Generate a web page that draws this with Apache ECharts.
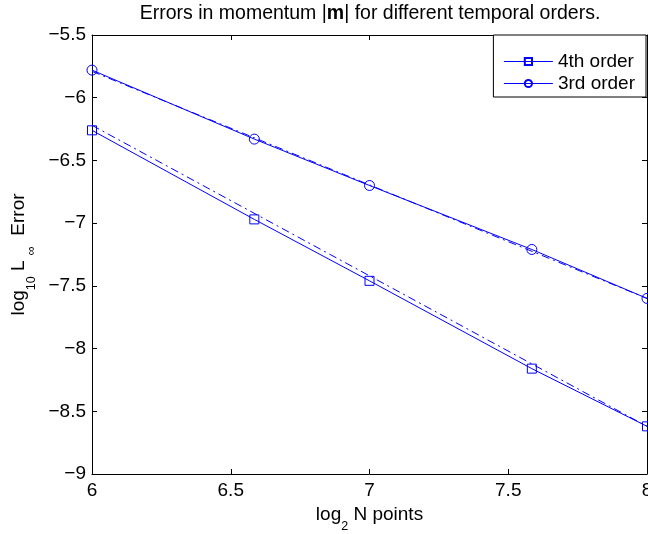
<!DOCTYPE html>
<html>
<head>
<meta charset="utf-8">
<script src="https://cdn.jsdelivr.net/npm/echarts@6/dist/echarts.min.js"></script>
<style>html,body{margin:0;padding:0;background:#fff;overflow:hidden}#c{width:648px;height:534px}</style>
</head>
<body>
<div id="c"></div>
<script>
const xLog2N = [6, 6.585, 7, 7.585, 8];
const order4 = [-6.26, -6.97, -7.46, -8.16, -8.62];
const order3 = [-5.78, -6.33, -6.70, -7.21, -7.60];
const ref4X = [6, 8];
const ref4Y = [-6.22, -8.62];
const ref3X = [6, 8];
const ref3Y = [-5.79, -7.60];
const yTicks = [-9, -8.5, -8, -7.5, -7, -6.5, -6, -5.5];
const xTicks = [6, 6.5, 7, 7.5, 8];

const FONT = 'Liberation Sans, Arial, Helvetica, sans-serif';
const BLUE = '#0000ff';
const FS = 19;
const zip = (a, b) => a.map((v, i) => [v, b[i]]);
const minus = v => String(v).replace('-', '\u2212');
const subRich = {
  n: {fontSize: FS, color: '#000', fontFamily: FONT, lineHeight: 37, verticalAlign: 'middle'},
  s: {fontSize: 12.5, color: '#000', fontFamily: FONT, lineHeight: 12, verticalAlign: 'bottom'}
};

const chart = echarts.init(document.getElementById('c'), null, {renderer: 'canvas'});
const axisCommon = {
  axisLine: {show: true, onZero: false, lineStyle: {color: '#000', width: 1}},
  axisTick: {show: true, inside: true, length: 5, lineStyle: {color: '#000'}},
  splitLine: {show: false}
};
chart.setOption({
  animation: false,
  backgroundColor: '#fff',
  textStyle: {fontFamily: FONT},
  title: {
    text: 'Errors in momentum |{b|m}| for different temporal orders.',
    left: 370, textAlign: 'center', top: 4, padding: 0,
    textStyle: {fontSize: 19.5, fontWeight: 'normal', color: '#000', fontFamily: FONT,
      rich: {b: {fontSize: 19.5, fontWeight: 'bold', color: '#000', fontFamily: FONT}}}
  },
  grid: {left: 92, right: 1, top: 35, bottom: 60, containLabel: false, outerBoundsMode: 'none'},
  legend: {
    orient: 'vertical', right: 2, top: 35,
    data: ['4th order', '3rd order'],
    backgroundColor: '#fff', borderColor: '#000', borderWidth: 1,
    padding: [17, 11, 4, 10], itemGap: 3, itemWidth: 49, itemHeight: 9,
    lineStyle: {width: 1},
    textStyle: {fontSize: FS, color: '#000', fontFamily: FONT}
  },
  xAxis: [
    Object.assign({type: 'value', min: 6, max: 8, interval: 0.5, position: 'bottom',
      name: '{n|log}{s|2}{n| N points}', nameLocation: 'middle', nameGap: 22,
      nameTextStyle: {color: '#000', rich: subRich},
      axisLabel: {fontSize: FS, color: '#000', margin: 7, formatter: v => minus(v)}}, axisCommon),
    Object.assign({type: 'value', min: 6, max: 8, interval: 0.5, position: 'top',
      axisLabel: {show: false}}, axisCommon)
  ],
  yAxis: [
    Object.assign({type: 'value', min: -9, max: -5.5, interval: 0.5, position: 'left',
      name: '{n|log}{s|10}{n| L }{s|\u221e}{n|  Error}', nameLocation: 'middle', nameGap: 53, nameRotate: 90,
      nameTextStyle: {color: '#000', rich: subRich},
      axisLabel: {fontSize: FS, color: '#000', margin: 6, formatter: v => minus(v)}}, axisCommon),
    Object.assign({type: 'value', min: -9, max: -5.5, interval: 0.5, position: 'right',
      axisLabel: {show: false}}, axisCommon)
  ],
  series: [
    {name: '4th order', type: 'line', data: zip(xLog2N, order4), symbol: 'rect', symbolSize: 9,
      lineStyle: {color: BLUE, width: 1}, itemStyle: {color: 'rgba(0,0,0,0)', borderColor: BLUE, borderWidth: 1},
      clip: false, z: 3},
    {name: '3rd order', type: 'line', data: zip(xLog2N, order3), symbol: 'circle', symbolSize: 10,
      lineStyle: {color: BLUE, width: 1}, itemStyle: {color: 'rgba(0,0,0,0)', borderColor: BLUE, borderWidth: 1},
      clip: false, z: 3},
    {name: 'ref4', type: 'line', data: zip(ref4X, ref4Y), symbol: 'none',
      lineStyle: {color: BLUE, width: 1, type: [8, 4, 2, 4]}, z: 2},
    {name: 'ref3', type: 'line', data: zip(ref3X, ref3Y), symbol: 'none',
      lineStyle: {color: BLUE, width: 1, type: [8, 4, 2, 4]}, z: 2}
  ]
});
</script>
</body>
</html>
